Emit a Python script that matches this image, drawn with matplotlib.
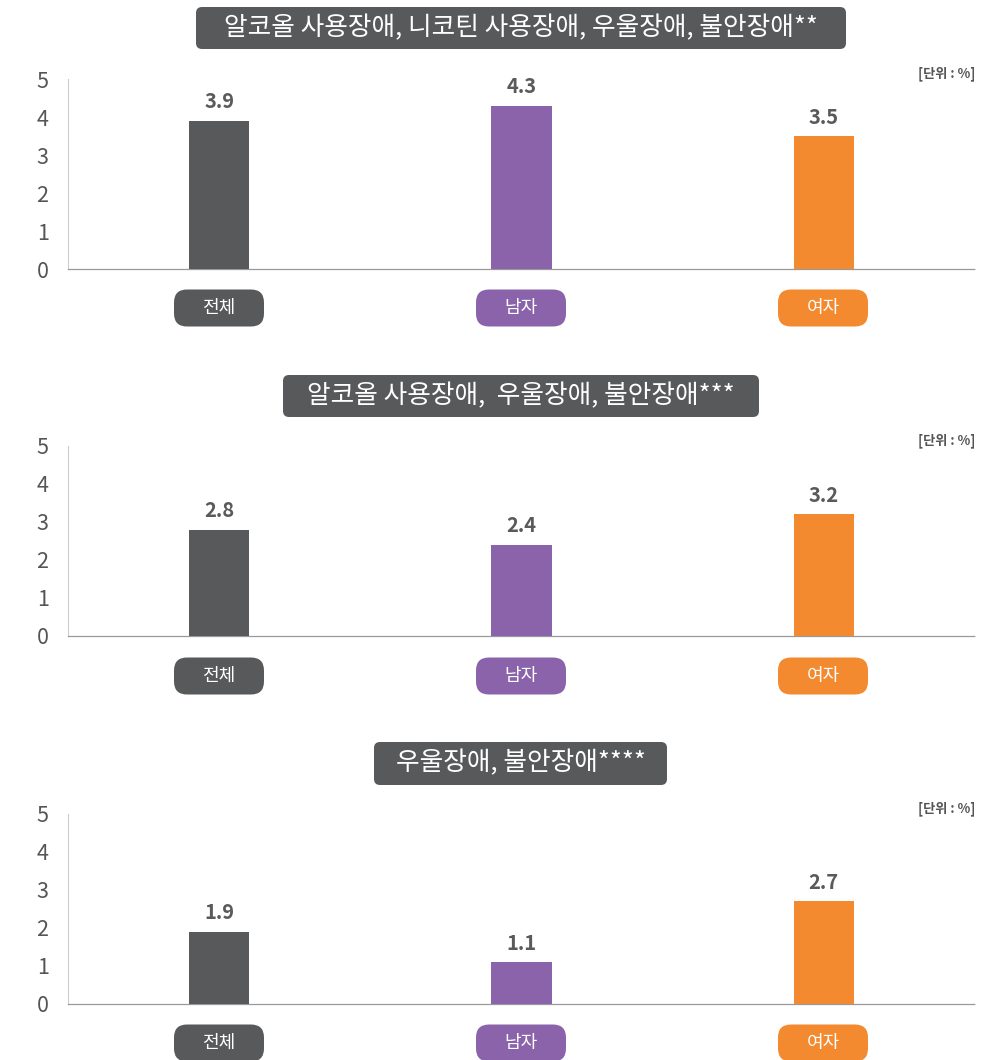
import matplotlib.pyplot as plt
from matplotlib.patches import FancyBboxPatch

plt.rcParams['font.family'] = ['Noto Sans CJK KR', 'DejaVu Sans']

categories = ['전체', '남자', '여자']
titles = ['알코올 사용장애, 니코틴 사용장애, 우울장애, 불안장애**',
          '알코올 사용장애,  우울장애, 불안장애***',
          '우울장애, 불안장애****']
values = [[3.9, 4.3, 3.5],
          [2.8, 2.4, 3.2],
          [1.9, 1.1, 2.7]]
y_ticks = [0, 1, 2, 3, 4, 5]
unit_label = '[단위 : %]'

colors = ['#58595b', '#8b63aa', '#f38a2f']
W, H = 1004, 1060
fig = plt.figure(figsize=(W / 100, H / 100), dpi=100)

# pixel layout of each panel: baseline y, title box (x0, x1, y0, y1), pill centre y
baselines = [269, 636, 1004]
title_boxes = [(196, 846, 7, 49), (283, 759, 375, 417), (374, 667, 742, 785)]
pill_y = [308, 676, 1043]
x_left, x_right = 68, 975
bar_centres = [219, 521, 823]


def px_box(x0, y0, w, h, **kw):
    # rectangle in figure pixels (y from top)
    return FancyBboxPatch((x0 / 100, (H - y0 - h) / 100), w / 100, h / 100,
                          transform=fig.dpi_scale_trans, **kw)


for p in range(3):
    base = baselines[p]
    ax = fig.add_axes([x_left / W, 1 - base / H, (x_right - x_left) / W, 190 / H])
    xs = range(len(categories))
    ax.bar(xs, values[p], width=0.2, color=colors, zorder=3)
    for i, v in enumerate(values[p]):
        ax.text(i, v + 0.22, f'{v:.1f}', ha='center', va='bottom',
                fontsize=14.5, fontweight='bold', color='#5a5a5a')
    ax.set_xlim(-0.5, 2.5)
    ax.set_ylim(0, 5)
    ax.set_yticks(y_ticks)
    ax.set_yticklabels([str(t) for t in y_ticks], fontsize=15.5, color='#555555')
    ax.tick_params(axis='y', length=0, pad=14)
    ax.set_xticks([])
    for s in ['top', 'right']:
        ax.spines[s].set_visible(False)
    ax.spines['left'].set_color('#cccccc')
    ax.spines['left'].set_linestyle((0, (1, 1)))
    ax.spines['left'].set_linewidth(0.8)
    ax.spines['bottom'].set_color('#999999')
    ax.spines['bottom'].set_linestyle((0, (1, 1)))
    ax.spines['bottom'].set_linewidth(0.9)
    ax.text(1.0, 1.03, unit_label, transform=ax.transAxes, ha='right',
            va='center', fontsize=9.5, fontweight='bold', color='#555555')

    # title box
    x0, x1, y0, y1 = title_boxes[p]
    fig.add_artist(px_box(x0, y0, x1 - x0, y1 - y0,
                          boxstyle='round,pad=0,rounding_size=0.06',
                          facecolor='#58595b', edgecolor='none'))
    fig.text((x0 + x1) / 2 / W, 1 - (y0 + y1) / 2 / H, titles[p],
             ha='center', va='center', fontsize=18.5, color='white')

    # category pills
    for i, c in enumerate(categories):
        cx = bar_centres[i]
        fig.add_artist(px_box(cx - 45, pill_y[p] - 18.5, 90, 37,
                              boxstyle='round,pad=0,rounding_size=0.13',
                              facecolor=colors[i], edgecolor='none'))
        fig.text(cx / W, 1 - pill_y[p] / H, c, ha='center', va='center',
                 fontsize=13, color='white')

fig.savefig('out.png', dpi=100)
